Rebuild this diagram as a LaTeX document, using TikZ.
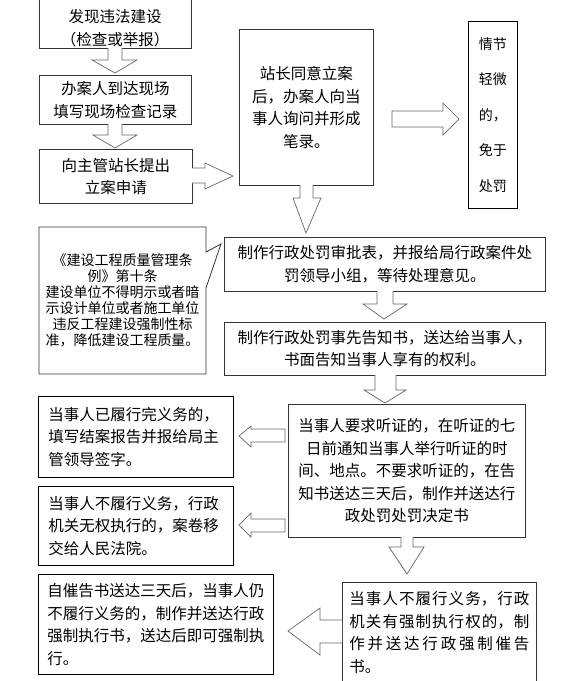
\documentclass[tikz,border=0pt]{standalone}
\usepackage{fontspec}
\setmainfont{Noto Sans CJK SC}
\newcommand\fsz{\fontsize{15.5}{22.5}\selectfont}
\newcommand\fsnote{\fontsize{14}{16}\selectfont}
\newcommand\fsside{\fontsize{14}{35.5}\selectfont}
\begin{document}
\begin{tikzpicture}[x=1pt,y=-1pt,
  box/.style={draw=black!80, line width=0.8pt, fill=white, inner sep=0pt, anchor=north west, font=\fsz, align=center},
  lbox/.style={box, draw=black, align=left},
  txt/.style={inner sep=0pt, font=\fsz, align=center},
  blk/.style={draw=black!60, line width=0.7pt, fill=white, line join=miter}]
\useasboundingbox (0,0) rectangle (570,681);
\clip (0,0) rectangle (570,681);

% boxes
\node[box, minimum width=152, minimum height=58] (b1) at (39,-10) {};
\node[txt] (t1) at (115,28) {发现违法建设\\（检查或举报）};
\node[box, minimum width=152, minimum height=49] (b2) at (39,75) {办案人到达现场\\填写现场检查记录};
\node[box, minimum width=153, minimum height=54] (b3) at (39,149) {向主管站长提出\\立案申请};
\node[box, minimum width=134, minimum height=156] (b4) at (239,29) {站长同意立案\\后，办案人向当\\事人询问并形成\\笔录。};
\node[box, draw=black, minimum width=49, minimum height=187, font=\fsside, align=left] (b5) at (468,21) {情节\\轻微\\的，\\免于\\处罚};
\node[box, minimum width=321, minimum height=54] (b6) at (224,237) {制作行政处罚审批表，并报给局行政案件处\\罚领导小组，等待处理意见。};
\node[box, minimum width=321, minimum height=53] (b7) at (224,322) {制作行政处罚事先告知书，送达给当事人，\\书面告知当事人享有的权利。};
\node[box, minimum width=237, minimum height=133] (b8) at (288,404) {当事人要求听证的，在听证的七\\日前通知当事人举行听证的时\\间、地点。不要求听证的，在告\\知书送达三天后，制作并送达行\\政处罚处罚决定书};
\node[box, minimum width=194, minimum height=100, text width=180, align=justify] (b9) at (342,582) {\XeTeXlinebreaklocale "zh"\XeTeXlinebreakskip=0pt plus 3pt\relax 当事人不履行义务，行政\linebreak 机关有强制执行权的，制\linebreak 作并送达行政强制催告\linebreak 书。};
\node[lbox, minimum width=195, minimum height=81, text width=175] (b10) at (38,396) {当事人已履行完义务的，\\填写结案报告并报给局主\\管领导签字。};
\node[lbox, minimum width=195, minimum height=79, text width=175] (b11) at (38,486) {当事人不履行义务，行政\\机关无权执行的，案卷移\\交给人民法院。};
\node[lbox, minimum width=235, minimum height=100, text width=217] (b12) at (38,574) {自催告书送达三天后，当事人仍\\不履行义务的，制作并送达行政\\强制执行书，送达后即可强制执\\行。};

% callout
\draw[draw=black!80, line width=0.8pt, fill=white, line join=miter] (39,227) -- (206,227) -- (206,252) -- (221,244) -- (206,288) -- (206,374) -- (39,374) -- cycle;
\node[txt, font=\fsnote] (note) at (122.5,300) {《建设工程质量管理条\\例》第十条\\建设单位不得明示或者暗\\示设计单位或者施工单位\\违反工程建设强制性标\\准，降低建设工程质量。};

% block arrows
\draw[blk] (108,48) -- (108,60) -- (92,60) -- (115,73) -- (137,60) -- (122,60) -- (122,48);
\draw[blk] (108,124) -- (108,135) -- (93,135) -- (115,148) -- (137,135) -- (122,135) -- (122,124);
\draw[blk] (192,168) -- (205,168) -- (205,163) -- (233,176) -- (205,189) -- (205,183) -- (192,183);
\draw[blk] (392,111) -- (443,111) -- (443,103) -- (459,119) -- (443,135) -- (443,127) -- (392,127) -- cycle;
\draw[blk] (300,185) -- (300,198) -- (293,198) -- (306,233) -- (321,198) -- (313,198) -- (313,185);
\draw[blk] (377,291) -- (377,304) -- (363,304) -- (384,319) -- (407,304) -- (393,304) -- (393,291);
\draw[blk] (375,375) -- (375,390) -- (364,390) -- (385,403) -- (406,390) -- (396,390) -- (396,375);
\draw[blk] (401,537) -- (401,547) -- (389,547) -- (407,574) -- (424,547) -- (413,547) -- (413,537);
\draw[blk] (342,620) -- (320,620) -- (320,608) -- (288,631) -- (320,655) -- (320,643) -- (342,643);
\draw[blk] (285,429) -- (251,429) -- (251,426) -- (239,436) -- (251,447) -- (251,442) -- (285,442) -- cycle;
\draw[blk] (285,519) -- (251,519) -- (251,513) -- (239,525) -- (251,537) -- (251,532) -- (285,532) -- cycle;
\end{tikzpicture}
\end{document}
